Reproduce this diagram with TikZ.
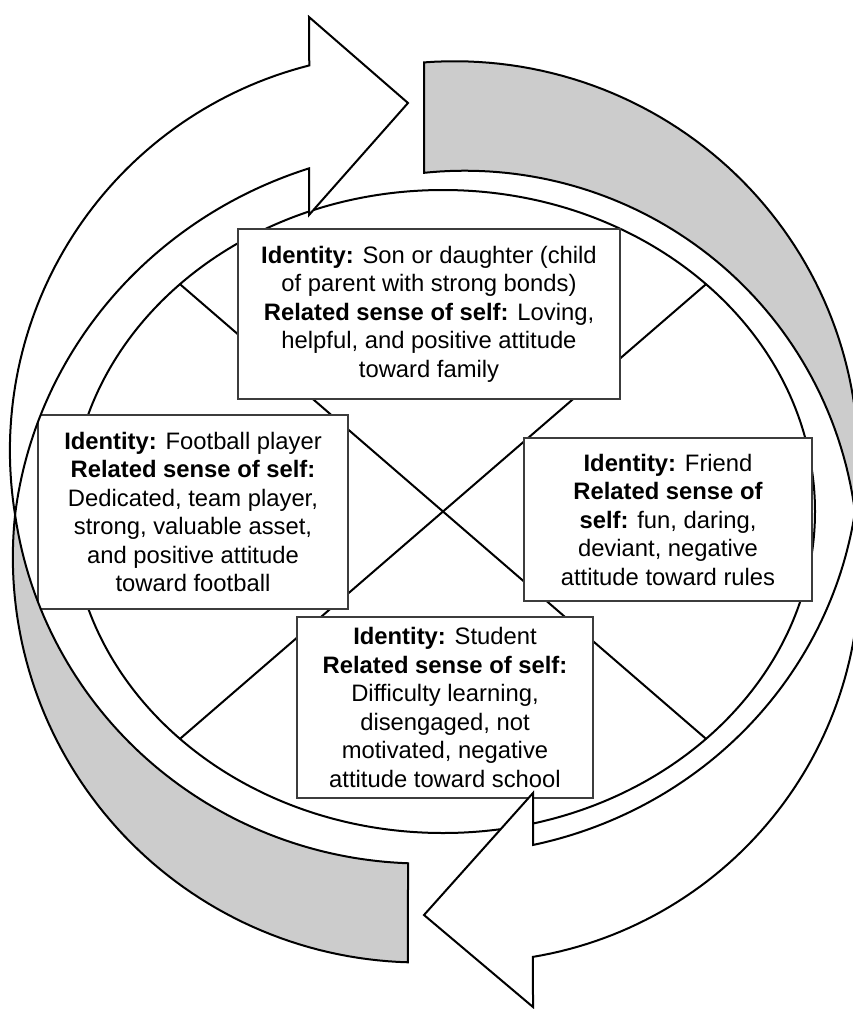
\documentclass[tikz,border=0pt]{standalone}
\usepackage{fontspec}
\setmainfont{Liberation Sans}
\usetikzlibrary{calc}

\definecolor{bandgray}{RGB}{204,204,204}
\definecolor{boxline}{RGB}{60,60,60}

\tikzset{
  band/.style={draw=black, line width=2pt, line join=miter},
  frontface/.style={band, fill=white},
  backface/.style={band, fill=bandgray},
  ringline/.style={draw=black, line width=2pt},
  idbox/.style={draw=boxline, line width=1.1pt, fill=white, align=center,
    inner sep=0pt, font=\fontsize{23.8}{28.5}\selectfont},
}

\begin{document}
\begin{tikzpicture}[x=1pt, y=-1pt]
\useasboundingbox (0,0) rectangle (853,1009);
\fill[white] (0,0) rectangle (853,1009);

% central ring with its cross
\coordinate (c) at (443,511.5);
\draw[ringline] (c) ellipse [x radius=372pt, y radius=321.5pt];
\coordinate (ne) at ($(c)+(45:372pt and 321.5pt)$);
\coordinate (nw) at ($(c)+(135:372pt and 321.5pt)$);
\coordinate (sw) at ($(c)+(225:372pt and 321.5pt)$);
\coordinate (se) at ($(c)+(315:372pt and 321.5pt)$);
\draw[ringline] (nw) -- (se);
\draw[ringline] (ne) -- (sw);

% identity boxes
\node[idbox, minimum width=382pt, minimum height=170pt] (family) at (429,314)
  {\textbf{Identity:} Son or daughter (child\\
   of parent with strong bonds)\\
   \textbf{Related sense of self:} Loving,\\
   helpful, and positive attitude\\
   toward family};
\node[idbox, minimum width=310pt, minimum height=194pt] (football) at (193,512)
  {\textbf{Identity:} Football player\\
   \textbf{Related sense of self:}\\
   Dedicated, team player,\\
   strong, valuable asset,\\
   and positive attitude\\
   toward football};
\node[idbox, minimum width=288pt, minimum height=163pt] (friend) at (668,519.5)
  {\textbf{Identity:} Friend\\
   \textbf{Related sense of}\\
   \textbf{self:} fun, daring,\\
   deviant, negative\\
   attitude toward rules};
\node[idbox, minimum width=296pt, minimum height=181pt] (student) at (445,707.5)
  {\textbf{Identity:} Student\\
   \textbf{Related sense of self:}\\
   Difficulty learning,\\
   disengaged, not\\
   motivated, negative\\
   attitude toward school};

% left ribbon arrow: back face from the bottom tail up to the twist
\draw[backface]
  plot[domain=92.09:178.9, samples=70, variable=\t]
    ({421+(406-49.5*sin(90*(178.9-\t)/87.26))*cos(\t)},
     {507+(406-49.5*sin(90*(178.9-\t)/87.26))*sin(\t)})
  -- plot[domain=178.9:91.64, samples=70, variable=\t]
    ({421+(406+49.5*sin(90*(178.9-\t)/87.26))*cos(\t)},
     {507+(406+49.5*sin(90*(178.9-\t)/87.26))*sin(\t)})
  -- cycle;
% left ribbon arrow: front face from the twist to the head at the top
\draw[frontface]
  plot[domain=178.9:255.8, samples=70, variable=\t]
    ({421+(406+49.5*sin(90*(\t-178.9)/76.9))*cos(\t)},
     {507+(406+49.5*sin(90*(\t-178.9)/76.9))*sin(\t)})
  -- (309,17) -- (408,103) -- (309,215)
  -- plot[domain=251.7:178.9, samples=70, variable=\t]
    ({421+(406-49.5*sin(90*(\t-178.9)/76.9))*cos(\t)},
     {507+(406-49.5*sin(90*(\t-178.9)/76.9))*sin(\t)})
  -- cycle;

% right ribbon arrow: back face from the top tail down to the twist
\draw[backface]
  plot[domain=264.11:360, samples=70, variable=\t]
    ({459+(396-55*sin(90*(360-\t)/95.89))*cos(\t)},
     {512+(396-55*sin(90*(360-\t)/95.89))*sin(\t)})
  -- plot[domain=360:265.55, samples=70, variable=\t]
    ({459+(396+55*sin(90*(360-\t)/95.89))*cos(\t)},
     {512+(396+55*sin(90*(360-\t)/95.89))*sin(\t)})
  -- cycle;
% right ribbon arrow: front face from the twist to the head at the bottom
\draw[frontface]
  plot[domain=360:440.56, samples=70, variable=\t]
    ({459+(396+55*sin(90*(\t-360)/80.56))*cos(\t)},
     {512+(396+55*sin(90*(\t-360)/80.56))*sin(\t)})
  -- (533,1007) -- (424,915) -- (533,793)
  -- plot[domain=437.47:360, samples=70, variable=\t]
    ({459+(396-55*sin(90*(\t-360)/80.56))*cos(\t)},
     {512+(396-55*sin(90*(\t-360)/80.56))*sin(\t)})
  -- cycle;
\end{tikzpicture}
\end{document}
